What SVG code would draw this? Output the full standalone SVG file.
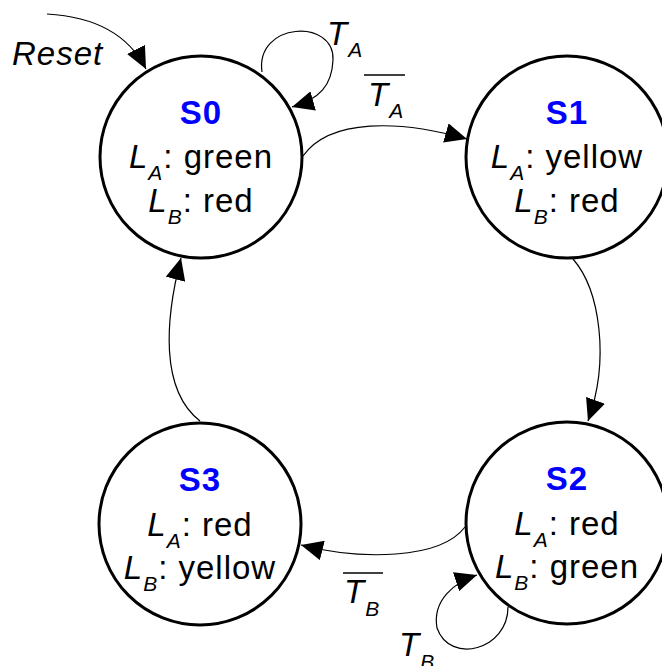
<svg xmlns="http://www.w3.org/2000/svg" width="662" height="666" viewBox="0 0 662 666">
<defs>
<marker id="arr" markerUnits="userSpaceOnUse" markerWidth="22" markerHeight="20" refX="22" refY="10" orient="auto" viewBox="0 0 22 20"><path d="M0,0 L22,10 L0,20 z" fill="#000"/></marker>
</defs>
<style>
.st{fill:#fff;stroke:#000;stroke-width:3}
.t{font-family:"Liberation Sans",Arial,sans-serif;font-size:33px;fill:#000;text-anchor:middle;letter-spacing:1px}
.nm{font-weight:bold;fill:#0000ff}
.i{font-style:italic}
.sub{font-size:21px}
.e{fill:none;stroke:#000;stroke-width:1.2;marker-end:url(#arr)}
.lbl{font-family:"Liberation Sans",Arial,sans-serif;font-size:33px;font-style:italic;fill:#000;letter-spacing:1px}
.ov{stroke:#000;stroke-width:1.3}
</style>
<rect width="662" height="666" fill="#fff"/>
<g id="S0">
<circle class="st" cx="201" cy="157" r="101"/>
<text class="t nm" x="201" y="124">S0</text>
<text class="t" x="201" y="168"><tspan class="i">L</tspan><tspan class="i sub" dy="12">A</tspan><tspan dy="-12">: green</tspan></text>
<text class="t" x="201" y="212"><tspan class="i">L</tspan><tspan class="i sub" dy="12">B</tspan><tspan dy="-12">: red</tspan></text>
</g>
<g id="S1">
<circle class="st" cx="567" cy="157" r="101"/>
<text class="t nm" x="567" y="124">S1</text>
<text class="t" x="567" y="168"><tspan class="i">L</tspan><tspan class="i sub" dy="12">A</tspan><tspan dy="-12">: yellow</tspan></text>
<text class="t" x="567" y="212"><tspan class="i">L</tspan><tspan class="i sub" dy="12">B</tspan><tspan dy="-12">: red</tspan></text>
</g>
<g id="S2">
<circle class="st" cx="567" cy="523" r="101"/>
<text class="t nm" x="567" y="490">S2</text>
<text class="t" x="567" y="535"><tspan class="i">L</tspan><tspan class="i sub" dy="12">A</tspan><tspan dy="-12">: red</tspan></text>
<text class="t" x="567" y="578"><tspan class="i">L</tspan><tspan class="i sub" dy="12">B</tspan><tspan dy="-12">: green</tspan></text>
</g>
<g id="S3">
<circle class="st" cx="200" cy="524" r="101"/>
<text class="t nm" x="200" y="491">S3</text>
<text class="t" x="200" y="536"><tspan class="i">L</tspan><tspan class="i sub" dy="12">A</tspan><tspan dy="-12">: red</tspan></text>
<text class="t" x="200" y="579"><tspan class="i">L</tspan><tspan class="i sub" dy="12">B</tspan><tspan dy="-12">: yellow</tspan></text>
</g>
<g id="connectors">
<g id="reset">
<path class="e" d="M47,14 Q120,18 146,69"/>
<text class="lbl" x="12" y="65">Reset</text>
</g>
<g id="S0-S0">
<path class="e" d="M262,72 C255,22 335,18 333,60 C332,85 320,99 292,107"/>
<text class="lbl" x="327" y="45">T<tspan class="sub" dy="12">A</tspan></text>
</g>
<g id="S0-S1">
<path class="e" d="M303,156 C330,118 400,120 467,139"/>
<line class="ov" x1="364" y1="75" x2="405" y2="75"/>
<text class="lbl" x="368" y="106">T<tspan class="sub" dy="12">A</tspan></text>
</g>
<g id="S1-S2">
<path class="e" d="M573,259 C600,290 610,360 588,421"/>
</g>
<g id="S2-S2">
<path class="e" d="M508,607 C508,650 450,665 437,628 C432,600 455,582 477,575"/>
<text class="lbl" x="399" y="656">T<tspan class="sub" dy="13">B</tspan></text>
</g>
<g id="S2-S3">
<path class="e" d="M465,527 C440,560 360,560 301,545"/>
<line class="ov" x1="343" y1="573" x2="383" y2="573"/>
<text class="lbl" x="344" y="603">T<tspan class="sub" dy="13">B</tspan></text>
</g>
<g id="S3-S0">
<path class="e" d="M200,421 C160,390 165,320 181,258"/>
</g>
</g>
</svg>
